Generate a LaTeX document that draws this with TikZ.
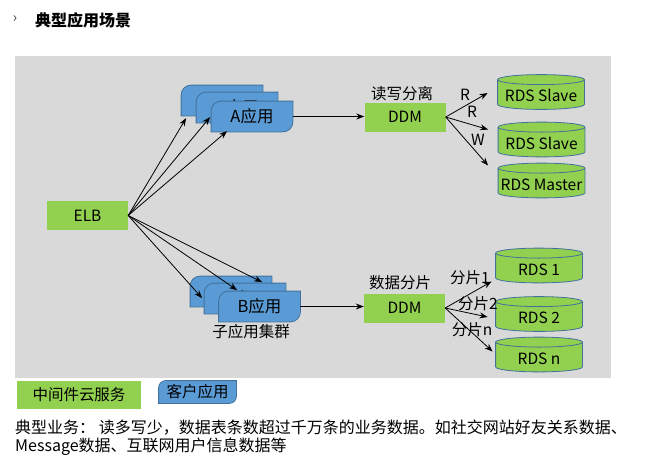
\documentclass[tikz,border=0pt]{standalone}
\usepackage{fontspec}
\setmainfont{Noto Sans CJK SC}
\usetikzlibrary{arrows.meta,calc}
\definecolor{bggray}{HTML}{D9D9D9}
\definecolor{mwgreen}{HTML}{92D050}
\definecolor{appblue}{HTML}{5B9BD5}
\definecolor{appedge}{HTML}{41719C}

\makeatletter
\newdimen\shpxa \newdimen\shpya \newdimen\shpxb \newdimen\shpyb
\newdimen\shprx \newdimen\shpt \newdimen\shpu
\def\appradius{9pt}
\def\capry{5pt}
\pgfdeclareshape{appbox}{%
  \inheritsavedanchors[from=rectangle]%
  \inheritanchorborder[from=rectangle]%
  \inheritanchor[from=rectangle]{center}%
  \inheritanchor[from=rectangle]{north}%
  \inheritanchor[from=rectangle]{south}%
  \inheritanchor[from=rectangle]{east}%
  \inheritanchor[from=rectangle]{west}%
  \inheritanchor[from=rectangle]{north east}%
  \inheritanchor[from=rectangle]{north west}%
  \inheritanchor[from=rectangle]{south east}%
  \inheritanchor[from=rectangle]{south west}%
  \backgroundpath{%
    \southwest \shpxa=\pgf@x \shpya=\pgf@y
    \northeast \shpxb=\pgf@x \shpyb=\pgf@y
    \shpt=\shpyb \advance\shpt by -\appradius
    \shpu=\shpya \advance\shpu by \appradius
    \pgfpathmoveto{\pgfqpoint{\shpxa}{\shpya}}%
    \pgfpathlineto{\pgfqpoint{\shpxa}{\shpt}}%
    \pgfpatharc{180}{90}{\appradius}%
    \pgfpathlineto{\pgfqpoint{\shpxb}{\shpyb}}%
    \pgfpathlineto{\pgfqpoint{\shpxb}{\shpu}}%
    \pgfpatharc{0}{-90}{\appradius}%
    \pgfpathclose
  }%
}
\pgfdeclareshape{dbcyl}{%
  \inheritsavedanchors[from=rectangle]%
  \inheritanchorborder[from=rectangle]%
  \inheritanchor[from=rectangle]{center}%
  \inheritanchor[from=rectangle]{north}%
  \inheritanchor[from=rectangle]{south}%
  \inheritanchor[from=rectangle]{east}%
  \inheritanchor[from=rectangle]{west}%
  \inheritanchor[from=rectangle]{north east}%
  \inheritanchor[from=rectangle]{north west}%
  \inheritanchor[from=rectangle]{south east}%
  \inheritanchor[from=rectangle]{south west}%
  \backgroundpath{%
    \southwest \shpxa=\pgf@x \shpya=\pgf@y
    \northeast \shpxb=\pgf@x \shpyb=\pgf@y
    \shprx=\shpxb \advance\shprx by -\shpxa \divide\shprx by 2
    \shpt=\shpyb \advance\shpt by -\capry
    \shpu=\shpya \advance\shpu by \capry
    \pgfpathmoveto{\pgfqpoint{\shpxa}{\shpt}}%
    \pgfpathlineto{\pgfqpoint{\shpxa}{\shpu}}%
    \pgfpatharc{180}{360}{\shprx and \capry}%
    \pgfpathlineto{\pgfqpoint{\shpxb}{\shpt}}%
    \pgfpatharc{0}{180}{\shprx and \capry}%
    \pgfpathclose
    \pgfpathmoveto{\pgfqpoint{\shpxa}{\shpt}}%
    \pgfpatharc{180}{360}{\shprx and \capry}%
  }%
}
\makeatother

\tikzset{
  app radius/.code={\def\appradius{#1}},
  fs/.style={font=\fontsize{15.5}{18}\selectfont},
  greenbox/.style={fs, rectangle, fill=mwgreen, draw=none, inner sep=0pt,
    minimum width=81pt, minimum height=29pt},
  appnode/.style={font=\fontsize{16.5}{19}\selectfont, shape=appbox, fill=appblue, draw=appedge, line width=0.8pt,
    inner sep=0pt, minimum width=81pt, minimum height=30pt, app radius=10pt},
  db/.style={fs, shape=dbcyl, fill=mwgreen, draw=appedge, line width=0.8pt,
    minimum width=86pt, minimum height=34pt, inner sep=0pt,
    text height=19pt, text depth=0pt},
  conn/.style={draw=black, line width=0.8pt, -{Stealth[length=8pt,width=6pt]}},
  lbl/.style={fs, inner sep=0pt},
}

\begin{document}
\begin{tikzpicture}[x=1pt,y=-1pt]
\useasboundingbox (0,0) rectangle (662,467);
\fill[white] (0,0) rectangle (662,467);

% title
\node[text=black!75, font=\fontsize{14}{16}\selectfont, inner sep=0pt] (chev) at (15,19) {›};
\node[anchor=west, inner sep=0pt, font=\fontsize{16}{19}\selectfont\bfseries] (title) at (35,20) {典型应用场景};

% gray panel
\fill[bggray] (15,56) rectangle (611,378);

% ELB
\node[greenbox] (ELB) at (87.5,215.5) {ELB};

% A apps
\node[appnode] (A1) at (222,100.5) {A应用};
\node[appnode] (A2) at (237,107.5) {A应用};
\node[appnode] (A3) at (252,116.5) {A应用};

% B apps
\node[appnode] (B1) at (231,291.5) {B应用};
\node[appnode] (B2) at (245,298.5) {B应用};
\node[appnode] (B3) at (259.5,306.5) {B应用};
\node[lbl] (cluster) at (251,332) {子应用集群};

% ELB connectors
\draw[conn] (ELB.east) -- ($(A1.north west)+(5,33)$);
\draw[conn] (ELB.east) -- ($(A1.north west)+(29,32)$);
\draw[conn] (ELB.east) -- ($(A1.north west)+(46,46)$);
\draw[conn] (ELB.east) -- ($(B1.north west)+(12,22)$);
\draw[conn] (ELB.east) -- ($(B1.north west)+(47,14)$);
\draw[conn] (ELB.east) -- ($(B1.north west)+(72,6)$);

% DDMs
\node[greenbox] (DDM1) at (405,117) {DDM};
\node[lbl] (rw) at (402,94) {读写分离};
\node[greenbox] (DDM2) at (404.5,308) {DDM};
\node[lbl] (shard) at (400,283) {数据分片};

\draw[conn] (A3.east) -- (A3.east -| DDM1.west);
\draw[conn] (B3.east) -- (B3.east -| DDM2.west);

% databases
\node[db] (S1) at (541,92) {RDS Slave};
\node[db] (S2) at (541.5,139.5) {RDS Slave};
\node[db] (M) at (541.5,180.5) {RDS Master};
\node[db] (R1) at (539,265.5) {RDS 1};
\node[db] (R2) at (539,314) {RDS 2};
\node[db] (Rn) at (539,354.5) {RDS n};

\draw[conn] (DDM1.east) -- ($(S1.west)+(-10,1)$);
\draw[conn] (DDM1.east) -- ($(S2.west)+(-10,-10)$);
\draw[conn] (DDM1.east) -- ($(M.west)+(-10,-15)$);
\node[lbl] (lr1) at (465,95) {R};
\node[lbl] (lr2) at (472,112) {R};
\node[lbl] (lw) at (478,140) {W};

\draw[conn] (DDM2.east) -- ($(R1.west)+(-4,16)$);
\draw[conn] (DDM2.east) -- ($(R2.west)+(-8,3)$);
\draw[conn] (DDM2.east) -- ($(Rn.west)+(-3,-3)$);
\node[lbl] (s1) at (470,278) {分片1};
\node[lbl] (s2) at (478,304) {分片2};
\node[lbl] (sn) at (472,330) {分片n};

% legend
\node[greenbox, minimum width=124pt, minimum height=28pt] (leg1) at (79,395) {中间件云服务};
\node[appnode, font=\fontsize{15.5}{18}\selectfont, minimum width=77pt, minimum height=22pt, app radius=7pt] (leg2) at (197.5,392) {客户应用};

% description
\node[anchor=west, inner sep=0pt, font=\fontsize{16}{19}\selectfont] (desc1) at (15,428) {典型业务：\ 读多写少，数据表条数超过千万条的业务数据。如社交网站好友关系数据、};
\node[anchor=west, inner sep=0pt, font=\fontsize{16}{19}\selectfont] (desc2) at (15,447) {Message数据、互联网用户信息数据等};
\end{tikzpicture}
\end{document}
